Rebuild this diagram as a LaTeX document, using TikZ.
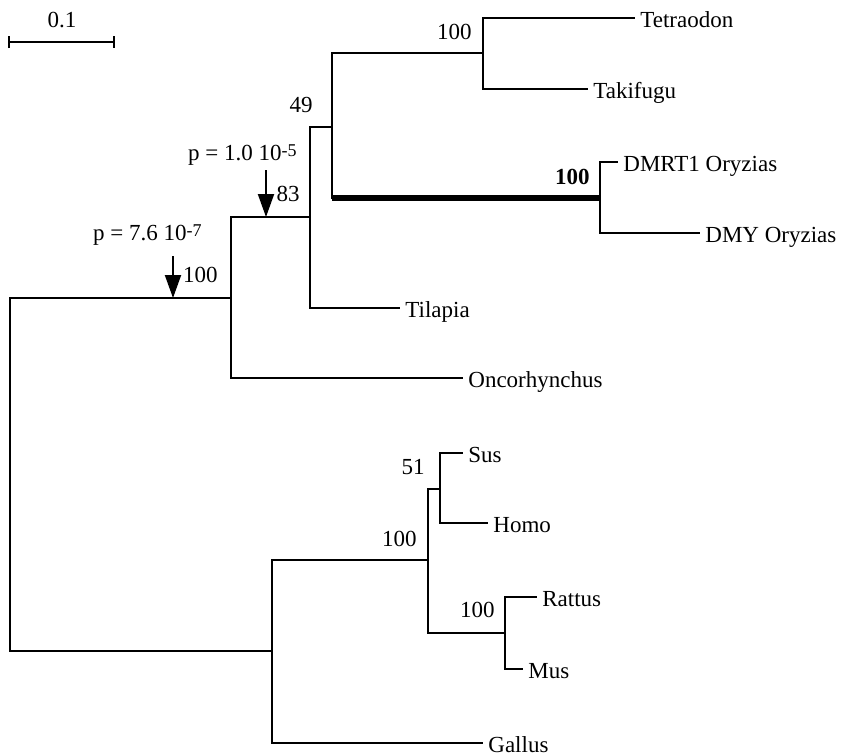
\documentclass[tikz,border=0pt]{standalone}
\usepackage{fontspec}
\setmainfont{Liberation Serif}
\usetikzlibrary{positioning,arrows.meta}

\newcommand{\pexp}[1]{\raisebox{1.7pt}{\fontsize{9}{9}\selectfont #1}}

\tikzset{
  branch/.style={line width=1pt},
  longbranch/.style={line width=2.6pt},
  leaf/.style={anchor=west, inner xsep=2.5pt, inner ysep=0pt, text height=10pt, text depth=1pt},
  boot/.style={inner sep=0pt},
  pval/.style={anchor=base east, inner sep=0pt},
  parrow/.style={line width=1pt, -{Triangle[length=11.5pt,width=8pt]}},
}

\begin{document}
\begin{tikzpicture}[x=0.5pt, y=-0.5pt, font=\fontsize{11.5}{13}\selectfont]
\useasboundingbox (0,0) rectangle (842,755);

% scale bar
\coordinate (sbleft) at (8,42);
\coordinate (sbright) at (115,42);
\node[boot, anchor=base] (sblabel) at (62,27) {0.1};
\draw[branch, {Bar[width=6pt]}-{Bar[width=6pt]}] (sbleft) -- (sbright);

% inner nodes
\coordinate (root) at (10,474);
\coordinate (fish) at (231,298);
\coordinate (n83) at (310,217);
\coordinate (n49) at (332,127);
\coordinate (fugu) at (483,53);
\coordinate (dm) at (600,198);
\coordinate (tetra) at (272,651);
\coordinate (mammal) at (428,560);
\coordinate (sushomo) at (440,489);
\coordinate (rodent) at (505,633);

% leaves
\node[leaf] (tetraodon) at (635,18) {Tetraodon};
\node[leaf] (takifugu) at (588,89) {Takifugu};
\node[leaf] (dmrt) at (618,162) {DMRT1 Oryzias};
\node[leaf] (dmy) at (700,233) {DMY Oryzias};
\node[leaf] (tilapia) at (400,308) {Tilapia};
\node[leaf] (onco) at (463,378) {Oncorhynchus};
\node[leaf] (sus) at (463,453) {Sus};
\node[leaf] (homo) at (488,523) {Homo};
\node[leaf] (rattus) at (537,597) {Rattus};
\node[leaf] (mus) at (523,669) {Mus};
\node[leaf] (gallus) at (483,743) {Gallus};

% branches
\draw[branch] (root) |- (fish) (root) |- (tetra);
\draw[branch] (fish) |- (n83) (fish) |- (onco);
\draw[branch] (n83) |- (n49) (n83) |- (tilapia);
\draw[branch] (n49) |- (fugu) (n49) |- (dm);
\draw[longbranch] (n49 |- dm) -- (dm);
\draw[branch] (fugu) |- (tetraodon) (fugu) |- (takifugu);
\draw[branch] (dm) |- (dmrt) (dm) |- (dmy);
\draw[branch] (tetra) |- (mammal) (tetra) |- (gallus);
\draw[branch] (mammal) |- (sushomo) (mammal) |- (rodent);
\draw[branch] (sushomo) |- (sus) (sushomo) |- (homo);
\draw[branch] (rodent) |- (rattus) (rodent) |- (mus);

% bootstrap values
\node[boot, above left=6.5pt and 5.5pt of fugu] (bfugu) {100};
\node[boot, above left=6.5pt and 5pt of dm] (bdm) {\textbf{100}};
\node[boot, above left=7pt and 9.5pt of n49] (b49) {49};
\node[boot, above left=7.5pt and 5pt of n83] (b83) {83};
\node[boot, above left=7.5pt and 6.5pt of fish] (bfish) {100};
\node[boot, above left=7pt and 7.5pt of sushomo] (bsushomo) {51};
\node[boot, above left=6.5pt and 5.5pt of mammal] (bmammal) {100};
\node[boot, above left=7.5pt and 5pt of rodent] (brodent) {100};

% selection tests
\coordinate (pin1) at (266,217);
\coordinate[above=23.5pt of pin1] (ptop1);
\coordinate (pin2) at (173,298);
\coordinate[above=21pt of pin2] (ptop2);
\draw[parrow] (ptop1) -- (pin1);
\draw[parrow] (ptop2) -- (pin2);
\node[pval] (p1) at (297,160) {p = 1.0 10\pexp{-5}};
\node[pval] (p2) at (202,240) {p = 7.6 10\pexp{-7}};
\end{tikzpicture}
\end{document}
